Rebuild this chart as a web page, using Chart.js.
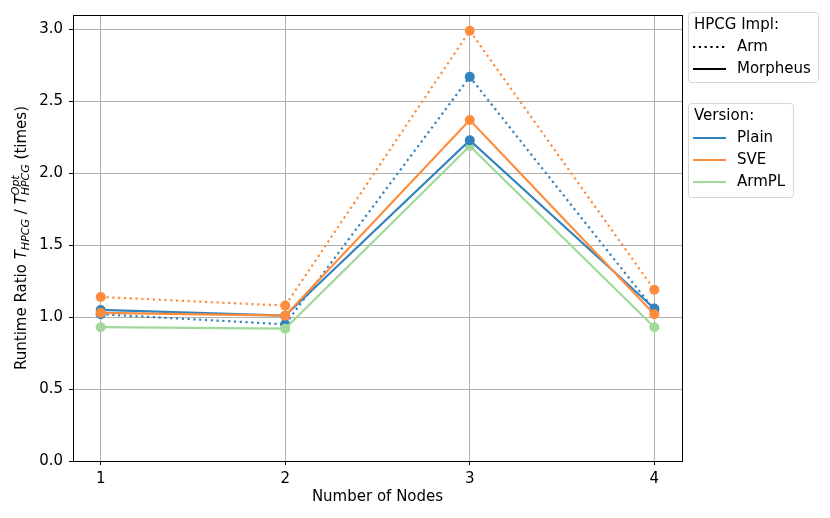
<!DOCTYPE html>
<html>
<head>
<meta charset="utf-8">
<script src="https://cdn.jsdelivr.net/npm/chart.js@4/dist/chart.umd.min.js"></script>
<style>
html,body{margin:0;padding:0;background:#fff;}
#wrap{width:830px;height:518px;}
</style>
</head>
<body>
<div id="wrap"><canvas id="c" width="830" height="518"></canvas></div>
<script>
// data
var nodes=[1,2,3,4];
var armPlain=[1.02,0.95,2.67,1.05];
var armSve=[1.14,1.08,2.99,1.19];
var morPlain=[1.05,1.01,2.23,1.06];
var morSve=[1.03,1.01,2.37,1.02];
var morArmpl=[0.93,0.92,2.19,0.93];
var yTicks=[0,0.5,1.0,1.5,2.0,2.5,3.0];
var xTicks=[1,2,3,4];
var implNames=['Arm','Morpheus'];
var versionNames=['Plain','SVE','ArmPL'];

var BLUE='#3182bd', ORANGE='#fd8d3c', GREEN='#a1d99b';
var FONT='"DejaVu Sans"';
var FS=15;

function pts(vals){
	var out=[];
	for(var i=0;i<vals.length;i++){
		out.push({x:nodes[i],y:vals[i]});
	}
	return out;
}
function ds(label,vals,color,dotted){
	return {
		label:label,
		data:pts(vals),
		borderColor:color,
		backgroundColor:color,
		borderWidth:2.2,
		borderDash:dotted?[2.2,3.6]:[],
		pointRadius:5,
		pointHoverRadius:5,
		pointBorderWidth:0,
		tension:0,
		fill:false
	};
}

// first dataset ends up on top
var datasets=[
	ds('Morpheus SVE',morSve,ORANGE,false),
	ds('Morpheus Plain',morPlain,BLUE,false),
	ds('Morpheus ArmPL',morArmpl,GREEN,false),
	ds('Arm SVE',armSve,ORANGE,true),
	ds('Arm Plain',armPlain,BLUE,true)
];

function roundRect(ctx,x,y,w,h,r){
	ctx.beginPath();
	ctx.moveTo(x+r,y);
	ctx.lineTo(x+w-r,y);
	ctx.quadraticCurveTo(x+w,y,x+w,y+r);
	ctx.lineTo(x+w,y+h-r);
	ctx.quadraticCurveTo(x+w,y+h,x+w-r,y+h);
	ctx.lineTo(x+r,y+h);
	ctx.quadraticCurveTo(x,y+h,x,y+h-r);
	ctx.lineTo(x,y+r);
	ctx.quadraticCurveTo(x,y,x+r,y);
	ctx.closePath();
}

function drawLegendBox(ctx,x,y,w,h,title,items){
	roundRect(ctx,x+0.5,y+0.5,w,h,3);
	ctx.fillStyle='rgba(255,255,255,0.8)';
	ctx.fill();
	ctx.strokeStyle='#d6d6d6';
	ctx.lineWidth=1;
	ctx.stroke();
	ctx.fillStyle='#000';
	ctx.font=FS+'px '+FONT;
	ctx.textBaseline='middle';
	ctx.textAlign='left';
	ctx.fillText(title,x+6,y+13);
	for(var i=0;i<items.length;i++){
		var it=items[i];
		var ly=y+35+i*22;
		ctx.save();
		ctx.strokeStyle=it.color;
		ctx.lineWidth=2.2;
		ctx.setLineDash(it.dash);
		ctx.beginPath();
		ctx.moveTo(x+5,ly);
		ctx.lineTo(x+38,ly);
		ctx.stroke();
		ctx.restore();
		ctx.fillStyle='#000';
		ctx.fillText(it.text,x+49,ly);
	}
}

var extras={
	id:'extras',
	afterDraw:function(chart){
		var ctx=chart.ctx;
		var area=chart.chartArea;
		ctx.save();
		// full frame round the plot
		ctx.strokeStyle='#000';
		ctx.lineWidth=1;
		ctx.strokeRect(Math.round(area.left)+0.5,Math.round(area.top)+0.5,Math.round(area.right-area.left),Math.round(area.bottom-area.top));

		// x axis title
		ctx.fillStyle='#000';
		ctx.font=FS+'px '+FONT;
		ctx.textAlign='center';
		ctx.textBaseline='middle';
		ctx.fillText('Number of Nodes',(area.left+area.right)/2,497);

		// y axis title with sub/superscripts
		var big=FS+'px '+FONT, it='italic '+FS+'px '+FONT, sm='italic '+Math.round(FS*0.7)+'px '+FONT;
		var parts=[
			{t:'Runtime Ratio ',f:big,dy:0},
			{t:'T',f:it,dy:0},
			{t:'HPCG',f:sm,dy:4},
			{t:' / ',f:big,dy:0},
			{t:'T',f:it,dy:0},
			{t:'Opt',f:sm,dy:-6,stackNext:true},
			{t:'HPCG',f:sm,dy:4},
			{t:' (times)',f:big,dy:0}
		];
		var widths=[], total=0;
		for(var i=0;i<parts.length;i++){
			ctx.font=parts[i].f;
			widths.push(ctx.measureText(parts[i].t).width);
		}
		for(var i=0;i<parts.length;i++){
			if(parts[i].stackNext){
				total+=Math.max(widths[i],widths[i+1]);
				i++;
			}else{
				total+=widths[i];
			}
		}
		ctx.translate(22,(area.top+area.bottom)/2);
		ctx.rotate(-Math.PI/2);
		ctx.textAlign='left';
		ctx.textBaseline='middle';
		var px=-total/2;
		for(var i=0;i<parts.length;i++){
			var p=parts[i];
			ctx.font=p.f;
			if(p.stackNext){
				var q=parts[i+1];
				ctx.fillText(p.t,px,p.dy);
				ctx.font=q.f;
				ctx.fillText(q.t,px,q.dy);
				px+=Math.max(widths[i],widths[i+1]);
				i++;
			}else{
				ctx.fillText(p.t,px,p.dy);
				px+=widths[i];
			}
		}
		ctx.restore();

		// legends
		ctx.save();
		drawLegendBox(ctx,688,12,130,70,'HPCG Impl:',[
			{text:implNames[0],color:'#000',dash:[2.2,3.6]},
			{text:implNames[1],color:'#000',dash:[]}
		]);
		drawLegendBox(ctx,688,103,105,94,'Version:',[
			{text:versionNames[0],color:BLUE,dash:[]},
			{text:versionNames[1],color:ORANGE,dash:[]},
			{text:versionNames[2],color:GREEN,dash:[]}
		]);
		ctx.restore();
	}
};

new Chart(document.getElementById('c'),{
	type:'line',
	data:{datasets:datasets},
	options:{
		responsive:false,
		animation:false,
		events:[],
		layout:{padding:{left:0,right:148,top:11,bottom:0}},
		plugins:{legend:{display:false},tooltip:{enabled:false}},
		scales:{
			x:{
				type:'linear',
				min:0.85,
				max:4.15,
				afterBuildTicks:function(s){s.ticks=xTicks.map(function(v){return {value:v};});},
				afterFit:function(s){s.height=57;},
				grid:{color:'#b0b0b0',lineWidth:1,tickColor:'#000',tickLength:4},
				border:{color:'#000',width:1},
				ticks:{color:'#000',font:{family:FONT,size:FS},padding:5,maxRotation:0,
					callback:function(v){return String(v);}}
			},
			y:{
				min:0,
				max:3.1,
				afterBuildTicks:function(s){s.ticks=yTicks.map(function(v){return {value:v};});},
				afterFit:function(s){s.width=73;},
				grid:{color:'#b0b0b0',lineWidth:1,tickColor:'#000',tickLength:4},
				border:{color:'#000',width:1},
				ticks:{color:'#000',font:{family:FONT,size:FS},padding:6,
					callback:function(v){return v.toFixed(1);}}
			}
		}
	},
	plugins:[extras]
});
</script>
</body>
</html>
